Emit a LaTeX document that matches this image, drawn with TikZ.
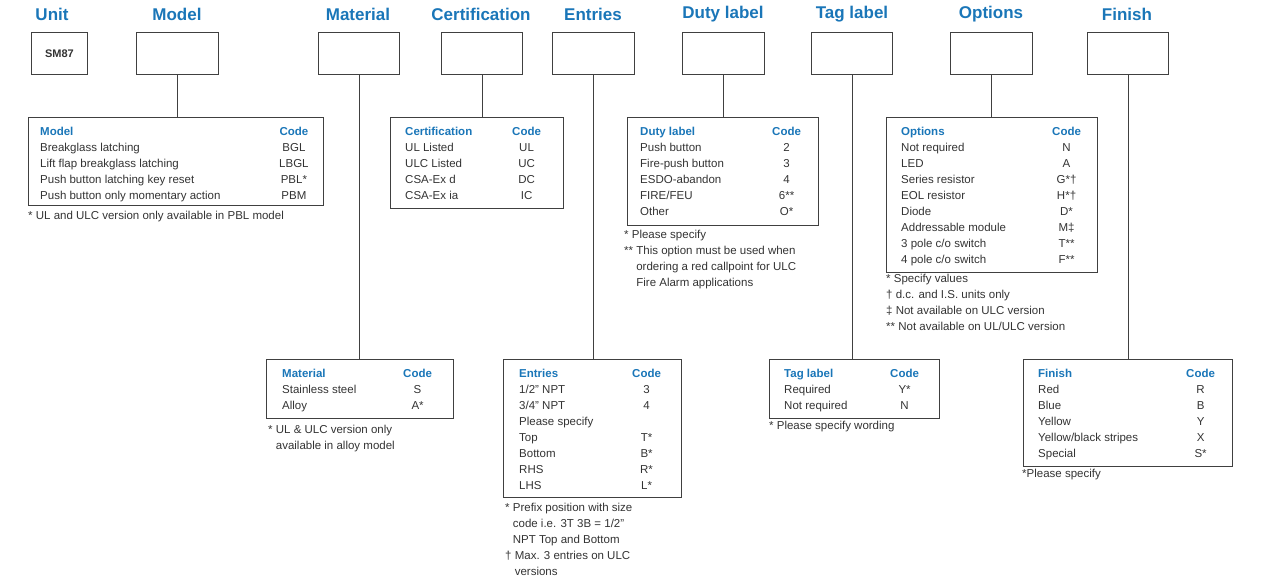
\documentclass[tikz,border=0pt]{standalone}
\usepackage{fontspec}
\setmainfont{Liberation Sans}
\definecolor{hb}{HTML}{1A76B8}
\definecolor{tx}{HTML}{333333}
\newcommand\hd[1]{\textcolor{hb}{\bfseries #1}}
\newcommand\tb[3]{\begin{tabular}{@{}p{#1pt}@{}c@{}}\hd{#2}&\hd{Code}\\#3\end{tabular}}
\begin{document}
\begin{tikzpicture}[x=1pt,y=-1pt,
  box/.style={draw=black!75,line width=0.8pt,inner sep=0pt,anchor=north west},
  ln/.style={draw=black!75,line width=0.8pt},
  head/.style={font=\fontsize{17}{20}\selectfont\bfseries,text=hb,inner sep=0pt},
  txt/.style={font=\fontsize{11.5}{16}\selectfont,text=tx,inner sep=0pt,anchor=north west,align=left},
  every node/.append style={}]
\useasboundingbox (0,0) rectangle (1280,587);
\def\arraystretch{1}
% headers
\foreach \x/\t in {52/Unit,177/Model,358/Material,481/Certification,593/Entries,723/Duty label,852/Tag label,991/Options,1127/Finish}
  \node[head] at (\x,14) {\t};
% top boxes
\node[box,minimum width=56,minimum height=42] (u) at (31,32) {};
\node[font=\fontsize{11}{13}\selectfont\bfseries,text=tx] at (u.center) {SM87};
\node[box,minimum width=82,minimum height=42] (bm) at (136,32) {};
\node[box,minimum width=81,minimum height=42] (bma) at (318,32) {};
\node[box,minimum width=81,minimum height=42] (bc) at (441,32) {};
\node[box,minimum width=82,minimum height=42] (be) at (552,32) {};
\node[box,minimum width=82,minimum height=42] (bd) at (682,32) {};
\node[box,minimum width=81,minimum height=42] (bt) at (811,32) {};
\node[box,minimum width=82,minimum height=42] (bo) at (950,32) {};
\node[box,minimum width=81,minimum height=42] (bf) at (1087,32) {};
% tables
\node[box,minimum width=295,minimum height=88] (tm) at (28,117) {};
\node[box,minimum width=173,minimum height=91] (tc) at (390,117) {};
\node[box,minimum width=191,minimum height=108] (td) at (627,117) {};
\node[box,minimum width=211,minimum height=155] (to) at (886,117) {};
\node[box,minimum width=187,minimum height=59] (tma) at (266,359) {};
\node[box,minimum width=178,minimum height=138] (te) at (503,359) {};
\node[box,minimum width=170,minimum height=59] (tt) at (769,359) {};
\node[box,minimum width=209,minimum height=107] (tf) at (1023,359) {};
% connectors
\draw[ln] (bm.south) -- (bm.south |- tm.north);
\draw[ln] (bma.south) -- (bma.south |- tma.north);
\draw[ln] (bc.south) -- (bc.south |- tc.north);
\draw[ln] (be.south) -- (be.south |- te.north);
\draw[ln] (bd.south) -- (bd.south |- td.north);
\draw[ln] (bt.south) -- (bt.south |- tt.north);
\draw[ln] (bo.south) -- (bo.south |- to.north);
\draw[ln] (bf.south) -- (bf.south |- tf.north);
% table contents
\node[txt] (cm) at (40,124) {\tb{239}{Model}{Breakglass latching & BGL\\ Lift flap breakglass latching & LBGL\\ Push button latching key reset & PBL*\\ Push button only momentary action & PBM}};
\node[txt] (fm) at (28,211) {* UL and ULC version only available in PBL model};
\node[txt] (cc) at (405,124) {\tb{107}{Certification}{UL Listed & UL\\ ULC Listed & UC\\ CSA-Ex d & DC\\ CSA-Ex ia & IC}};
\node[txt] (cd) at (640,124) {\tb{132}{Duty label}{Push button & 2\\ Fire-push button & 3\\ ESDO-abandon & 4\\ FIRE/FEU & 6**\\ Other & O*}};
\node[txt] (fd) at (624,230) {* Please specify\\** This option must be used when\\\phantom{** }ordering a red callpoint for ULC\\\phantom{** }Fire Alarm applications};
\node[txt] (co) at (901,124) {\tb{151}{Options}{Not required & N\\ LED & A\\ Series resistor & G*†\\ EOL resistor & H*†\\ Diode & D*\\ Addressable module & M‡\\ 3 pole c/o switch & T**\\ 4 pole c/o switch & F**}};
\node[txt] (fo) at (886,274) {* Specify values\\† d.c. and I.S. units only\\‡ Not available on ULC version\\** Not available on UL/ULC version};
\node[txt] (cma) at (282,366) {\tb{121}{Material}{Stainless steel & S\\ Alloy & A*}};
\node[txt] (fma) at (268,425) {* UL \& ULC version only\\\phantom{* }available in alloy model};
\node[txt] (ce) at (519,366) {\tb{113}{Entries}{1/2” NPT & 3\\ 3/4” NPT & 4\\ Please specify & \\ Top & T*\\ Bottom & B*\\ RHS & R*\\ LHS & L*}};
\node[txt] (fe) at (505,503) {* Prefix position with size\\\phantom{* }code i.e. 3T 3B = 1/2”\\\phantom{* }NPT Top and Bottom\\† Max. 3 entries on ULC\\\phantom{† }versions};
\node[txt] (ct) at (784,366) {\tb{106}{Tag label}{Required & Y*\\ Not required & N}};
\node[txt] (ft) at (769,421) {* Please specify wording};
\node[txt] (cf) at (1038,366) {\tb{148}{Finish}{Red & R\\ Blue & B\\ Yellow & Y\\ Yellow/black stripes & X\\ Special & S*}};
\node[txt] (ff) at (1022,469) {*Please specify};
\end{tikzpicture}
\end{document}
